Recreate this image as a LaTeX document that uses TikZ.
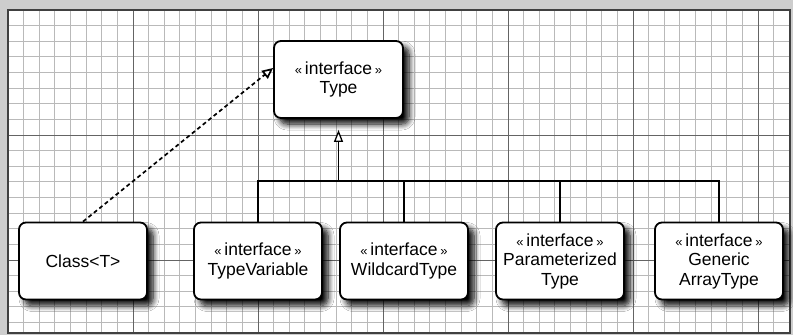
\documentclass[tikz,border=0pt]{standalone}
\usepackage{fontspec}
\setmainfont{Liberation Sans}
\usetikzlibrary{positioning, arrows.meta, shadows.blur}
\definecolor{gridMinor}{RGB}{185,185,185}
\definecolor{gridMajor}{RGB}{100,100,100}
\definecolor{paperEdge}{RGB}{205,205,205}
\newcommand{\iface}{{\fontsize{13}{12}\selectfont\guillemotleft}\,interface\,{\fontsize{13}{12}\selectfont\guillemotright}}

\begin{document}
\begin{tikzpicture}[x=1pt, y=-1pt,
    umlbox/.style={draw, line width=1.8pt, rounded corners=7pt, fill=white,
      minimum width=128pt, minimum height=77pt, align=center,
      font=\fontsize{17.5}{19.5}\selectfont,
      blur shadow={shadow xshift=6pt, shadow yshift=-6pt, shadow opacity=100,
        shadow blur radius=6pt, shadow blur steps=8}},
    realize/.style={line width=1.7pt, dash pattern=on 4pt off 3pt, -{Triangle[open, fill=white, length=11pt, width=10pt]}},
    extend/.style={line width=1.3pt, shorten >=11pt, -{Triangle[open, fill=white, length=12pt, width=9pt]}},
    busline/.style={line width=1.3pt}]
  \useasboundingbox (0,0) rectangle (793,335);
  \fill[paperEdge] (0,0) rectangle (793,335);
  \fill[white] (8,10) rectangle (790,333);
  % graph paper
  \foreach \i in {0,...,50}
    \draw[gridMinor, line width=0.8pt] ({8+\i*15.625},10) -- ({8+\i*15.625},333);
  \foreach \j in {0,...,20}
    \draw[gridMinor, line width=0.8pt] (8,{10+\j*15.625}) -- (790,{10+\j*15.625});
  \foreach \i in {0,...,6}
    \draw[gridMajor, line width=0.9pt] ({8+\i*125},10) -- ({8+\i*125},333);
  \foreach \j in {0,1,2}
    \draw[gridMajor, line width=0.9pt] (8,{10+\j*125}) -- (790,{10+\j*125});
  \draw[black!75, line width=1.2pt] (8,10) rectangle (790,333);

  % classes
  \node[umlbox, minimum width=129pt] (type) at (338.5,79.5) {\iface\\Type};
  \node[umlbox] (cls) at (83,261) {Class<T>};
  \node[umlbox] (tvar) at (258,261) {\iface\\TypeVariable};
  \node[umlbox] (wild) at (404,261) {\iface\\WildcardType};
  \node[umlbox] (ptype) at (560,261) {\iface\\Parameterized\\Type};
  \node[umlbox] (garr) at (719,261) {\iface\\Generic\\ArrayType};

  % inheritance
  \coordinate (bus) at (338.5,181);
  \draw[extend] (bus) -- (type.south);
  \draw[busline] (tvar.north) |- (bus);
  \draw[busline] (wild.north) |- (bus);
  \draw[busline] (ptype.north) |- (bus);
  \draw[busline] (garr.north) |- (bus);
  \draw[realize] (cls.north) -- (type.170);
\end{tikzpicture}
\end{document}
